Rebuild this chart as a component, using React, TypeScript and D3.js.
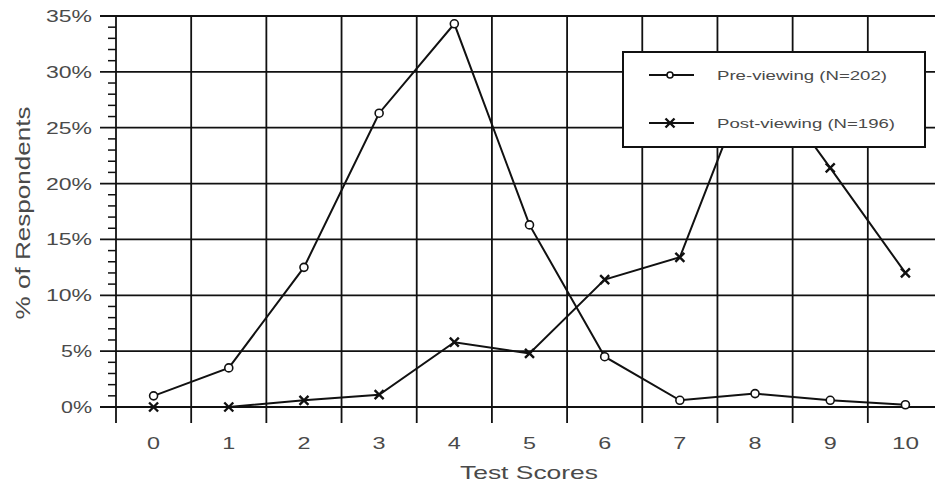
import React, { useEffect, useRef } from "react";
import * as d3 from "d3";

const scores = [0, 1, 2, 3, 4, 5, 6, 7, 8, 9, 10];
const preViewing = [1.0, 3.5, 12.5, 26.3, 34.3, 16.3, 4.5, 0.6, 1.2, 0.6, 0.2];
const postViewing = [0, 0, 0.6, 1.1, 5.8, 4.8, 11.4, 13.4, 30.7, 21.4, 12.0];
const yTicks = [0, 5, 10, 15, 20, 25, 30, 35];
const seriesNames = ["Pre-viewing (N=202)", "Post-viewing (N=196)"];

const W = 935;
const H = 487;
const textColor = "#4a4a4a";
const font = "Arial, 'Liberation Sans', sans-serif";

export default function App() {
  const svgRef = useRef<SVGSVGElement>(null);

  useEffect(() => {
    const svg = d3.select(svgRef.current);
    svg.selectAll("*").remove();

    const left = 116;
    const top = 16;
    const bottom = 407;

    const x = d3
      .scaleBand<number>()
      .domain(scores)
      .range([left, 943])
      .padding(0);
    const y = d3.scaleLinear().domain([0, 35]).range([bottom, top]);
    const cx = (d: number) => (x(d) as number) + x.bandwidth() / 2;

    svg.append("rect").attr("width", W).attr("height", H).attr("fill", "#fff");

    const g = svg.append("g");

    // horizontal grid lines (extend left as ticks)
    g.selectAll(".hgrid")
      .data(yTicks)
      .enter()
      .append("line")
      .attr("x1", left - 16)
      .attr("x2", W)
      .attr("y1", (d) => y(d))
      .attr("y2", (d) => y(d))
      .attr("stroke", "#111")
      .attr("stroke-width", 1.8);

    // minor ticks every 1%
    const minor = d3.range(0, 35).filter((d) => d % 5 !== 0);
    g.selectAll(".minor")
      .data(minor)
      .enter()
      .append("line")
      .attr("x1", left - 8)
      .attr("x2", left)
      .attr("y1", (d) => y(d))
      .attr("y2", (d) => y(d))
      .attr("stroke", "#111")
      .attr("stroke-width", 1.5);

    // vertical grid lines at band boundaries
    const bounds = scores.map((d) => x(d) as number);
    g.selectAll(".vgrid")
      .data(bounds)
      .enter()
      .append("line")
      .attr("x1", (d) => d)
      .attr("x2", (d) => d)
      .attr("y1", top)
      .attr("y2", bottom + 16)
      .attr("stroke", "#111")
      .attr("stroke-width", 1.8);

    // y tick labels
    g.selectAll(".ylab")
      .data(yTicks)
      .enter()
      .append("text")
      .attr("x", 92)
      .attr("y", (d) => y(d) + 6)
      .attr("text-anchor", "end")
      .attr("font-family", font)
      .attr("font-size", 17)
      .attr("fill", textColor)
      .attr("textLength", (d) => (d < 10 ? 31 : 46))
      .attr("lengthAdjust", "spacingAndGlyphs")
      .text((d) => `${d}%`);

    // x tick labels
    g.selectAll(".xlab")
      .data(scores)
      .enter()
      .append("text")
      .attr("x", (d) => cx(d))
      .attr("y", 449)
      .attr("text-anchor", "middle")
      .attr("font-family", font)
      .attr("font-size", 17)
      .attr("fill", textColor)
      .attr("textLength", (d) => (d < 10 ? 13 : 27))
      .attr("lengthAdjust", "spacingAndGlyphs")
      .text((d) => String(d));

    // axis titles
    g.append("text")
      .attr("x", 529)
      .attr("y", 479)
      .attr("text-anchor", "middle")
      .attr("font-family", font)
      .attr("font-size", 19)
      .attr("fill", textColor)
      .attr("textLength", 138)
      .attr("lengthAdjust", "spacingAndGlyphs")
      .text("Test Scores");

    g.append("text")
      .attr("transform", "translate(30,213) rotate(-90)")
      .attr("text-anchor", "middle")
      .attr("font-family", font)
      .attr("font-size", 20)
      .attr("fill", textColor)
      .attr("textLength", 213)
      .attr("lengthAdjust", "spacingAndGlyphs")
      .text("% of Respondents");

    const line = d3
      .line<number>()
      .x((d, i) => cx(scores[i]))
      .y((d) => y(d));

    g.append("path")
      .attr("d", line(preViewing))
      .attr("fill", "none")
      .attr("stroke", "#111")
      .attr("stroke-width", 2);

    g.append("path")
      .attr("d", line(postViewing))
      .attr("fill", "none")
      .attr("stroke", "#111")
      .attr("stroke-width", 2);

    const drawCircle = (sel: any, px: number, py: number, r = 4) => {
      sel
        .append("circle")
        .attr("cx", px)
        .attr("cy", py)
        .attr("r", r)
        .attr("fill", "#fff")
        .attr("stroke", "#111")
        .attr("stroke-width", 1.6);
    };
    const drawCross = (sel: any, px: number, py: number) => {
      const s = 4.5;
      sel
        .append("path")
        .attr(
          "d",
          `M${px - s},${py - s}L${px + s},${py + s}M${px - s},${py + s}L${px + s},${py - s}`
        )
        .attr("stroke", "#111")
        .attr("stroke-width", 2.4)
        .attr("fill", "none");
    };

    preViewing.forEach((v, i) => drawCircle(g, cx(scores[i]), y(v)));
    postViewing.forEach((v, i) => drawCross(g, cx(scores[i]), y(v)));

    // legend
    const lg = svg.append("g");
    lg.append("rect")
      .attr("x", 623)
      .attr("y", 52)
      .attr("width", 302)
      .attr("height", 95)
      .attr("fill", "#fff")
      .attr("stroke", "#111")
      .attr("stroke-width", 2);

    const rowsY = [75, 123];
    seriesNames.forEach((name, i) => {
      const ry = rowsY[i];
      lg.append("line")
        .attr("x1", 649)
        .attr("x2", 694)
        .attr("y1", ry)
        .attr("y2", ry)
        .attr("stroke", "#111")
        .attr("stroke-width", 2);
      if (i === 0) drawCircle(lg, 670, ry, 3);
      else drawCross(lg, 670, ry);
      lg.append("text")
        .attr("x", 717)
        .attr("y", ry + 5)
        .attr("font-family", font)
        .attr("font-size", 13)
        .attr("fill", textColor)
        .attr("textLength", i === 0 ? 170 : 178)
        .attr("lengthAdjust", "spacingAndGlyphs")
        .text(name);
    });
  }, []);

  return (
    <svg
      ref={svgRef}
      width={W}
      height={H}
      style={{ position: "absolute", left: 0, top: 0, display: "block" }}
    />
  );
}
